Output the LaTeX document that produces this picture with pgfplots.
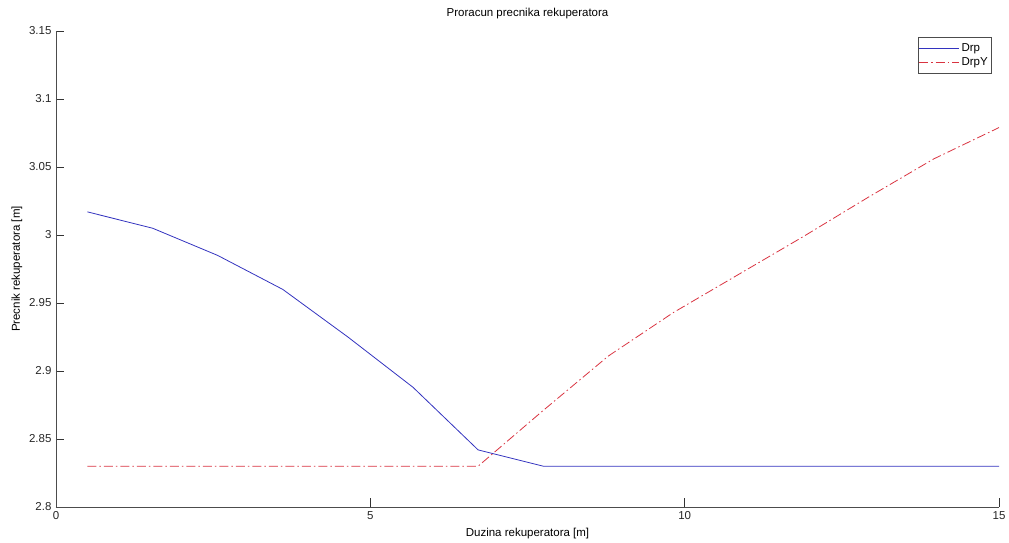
\documentclass[border=0pt]{standalone}
\usepackage{fontspec}
\setmainfont{Liberation Sans}
\usepackage{pgfplots}
\pgfplotsset{compat=1.18}
\definecolor{mblue}{rgb}{0.2,0.2,0.75}
\definecolor{mred}{rgb}{0.85,0.2,0.25}
\begin{document}
\begin{tikzpicture}
\begin{axis}[
  scale only axis,
  width=943pt, height=476pt,
  xmin=0, xmax=15, ymin=2.8, ymax=3.15,
  xtick={0,5,10,15},
  ytick={2.8,2.85,2.9,2.95,3,3.05,3.1,3.15},
  axis x line*=bottom, axis y line*=left,
  axis line style={black!70, line width=0.8pt},
  tick style={black!80, line width=0.8pt},
  tick align=inside,
  major tick length=8.5pt,
  /pgf/number format/assume math mode=true,
  font=\fontsize{11.5}{13}\selectfont,
  tick label style={text=black!85, font=\fontsize{11.5}{13}\selectfont},
  xticklabel style={yshift=-1pt},
  yticklabel style={xshift=-1pt},
  title={Proracun precnika rekuperatora},
  title style={at={(rel axis cs:0.5,1)}, anchor=base, yshift=8.3pt, font=\fontsize{11.5}{13}\selectfont},
  xlabel={Duzina rekuperatora [m]},
  xlabel style={at={(rel axis cs:0.5,0)}, anchor=base, yshift=-30pt, font=\fontsize{11.5}{13}\selectfont},
  ylabel={Precnik rekuperatora [m]},
  ylabel style={at={([xshift=-36pt]rel axis cs:0,0.5)}, anchor=base, font=\fontsize{11.5}{13}\selectfont},
  legend style={draw=black!70, at={(rel axis cs:1,1)}, anchor=north east, xshift=-8pt, yshift=-6pt,
    inner xsep=1pt, inner ysep=5pt, row sep=3pt, font=\fontsize{11.5}{13}\selectfont,
    nodes={inner xsep=2pt, inner ysep=1pt}},
  legend cell align=left,
]
\addplot[draw=mblue, line width=0.8pt,
  legend image code/.code={\draw[draw=mblue, line width=0.8pt] (0pt,0pt) -- (40pt,0pt);}] coordinates {
(0.5,3.017) (1.536,3.005) (2.571,2.985) (3.607,2.960) (4.643,2.925) (5.679,2.888) (6.714,2.842) (7.75,2.830) (8.786,2.830) (9.821,2.830) (10.857,2.830) (11.893,2.830) (12.929,2.830) (13.964,2.830) (15,2.830)
};
\addlegendentry{Drp}
\addplot[draw=mred, line width=0.8pt, dash pattern=on 9pt off 3pt on 1.5pt off 3pt,
  legend image code/.code={\draw[draw=mred, line width=0.8pt, dash pattern=on 9pt off 3pt on 1.5pt off 3pt] (0pt,0pt) -- (40pt,0pt);}] coordinates {
(0.5,2.830) (1.536,2.830) (2.571,2.830) (3.607,2.830) (4.643,2.830) (5.679,2.830) (6.714,2.830) (7.75,2.871) (8.786,2.911) (9.821,2.943) (10.857,2.971) (11.893,2.999) (12.929,3.028) (13.964,3.056) (15,3.079)
};
\addlegendentry{DrpY}
\end{axis}
\path ([xshift=-56pt,yshift=-35pt]current axis.south west) rectangle ([xshift=10pt,yshift=31pt]current axis.north east);
\end{tikzpicture}
\end{document}
